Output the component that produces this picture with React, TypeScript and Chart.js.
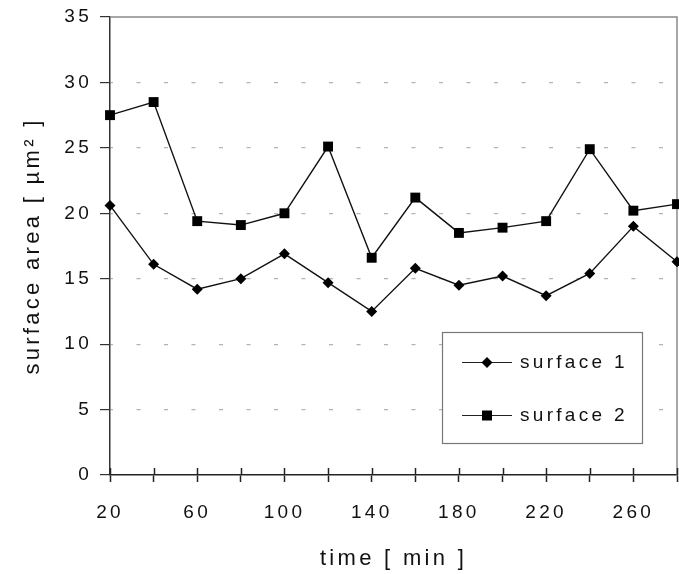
import React, { useEffect, useRef } from "react";
import { Chart, registerables } from "chart.js";

Chart.register(...registerables);

const times = ["20", "40", "60", "80", "100", "120", "140", "160", "180", "200", "220", "240", "260", "280"];
const surface1 = [20.6, 16.1, 14.2, 15.0, 16.9, 14.7, 12.5, 15.8, 14.5, 15.2, 13.7, 15.4, 19.0, 16.3];
const surface2 = [27.5, 28.5, 19.4, 19.1, 20.0, 25.1, 16.6, 21.2, 18.5, 18.9, 19.4, 24.9, 20.2, 20.7];
const seriesNames = ["surface 1", "surface 2"];
const yTitle = "surface area [ µm² ]";
const xTitle = "time [ min ]";

const FONT = "'Liberation Sans', Arial, Helvetica, sans-serif";
const TEXT = "#111";
const LS = "3.3px";

const spacingPlugin = {
  id: "spacing",
  beforeUpdate(chart: any) {
    chart.ctx.letterSpacing = LS;
  },
  beforeLayout(chart: any) {
    chart.ctx.letterSpacing = LS;
  },
  beforeDraw(chart: any) {
    chart.ctx.letterSpacing = LS;
  },
};

const framePlugin = {
  id: "frame",
  beforeDatasetsDraw(chart: any) {
    const { ctx, chartArea, scales } = chart;
    const x = scales.x;
    ctx.save();
    ctx.strokeStyle = "#8a8a8a";
    ctx.lineWidth = 1.5;
    ctx.beginPath();
    ctx.moveTo(chartArea.left, chartArea.top);
    ctx.lineTo(chartArea.right, chartArea.top);
    ctx.lineTo(chartArea.right, chartArea.bottom);
    ctx.stroke();
    // upward half of x tick marks (crossing the axis)
    ctx.strokeStyle = "#222";
    ctx.lineWidth = 1.5;
    for (let i = 0; i < x.ticks.length; i++) {
      const px = Math.round(x.getPixelForTick(i)) + 0.5;
      ctx.beginPath();
      ctx.moveTo(px, chartArea.bottom - 7);
      ctx.lineTo(px, chartArea.bottom);
      ctx.stroke();
    }
    ctx.restore();
  },
};

function drawMarker(ctx: CanvasRenderingContext2D, style: string, x: number, y: number) {
  ctx.beginPath();
  if (style === "rect") {
    ctx.rect(x - 5, y - 5, 10, 10);
  } else {
    ctx.moveTo(x, y - 5.5);
    ctx.lineTo(x + 5.5, y);
    ctx.lineTo(x, y + 5.5);
    ctx.lineTo(x - 5.5, y);
    ctx.closePath();
  }
  ctx.fill();
}

const legendPlugin = {
  id: "boxLegend",
  afterDraw(chart: any) {
    const { ctx, chartArea } = chart;
    const bx = chartArea.right - 235;
    const by = chartArea.bottom - 143;
    const bw = 200;
    const bh = 111;
    ctx.save();
    ctx.fillStyle = "#fff";
    ctx.fillRect(bx, by, bw, bh);
    ctx.strokeStyle = "#777";
    ctx.lineWidth = 1.2;
    ctx.strokeRect(bx + 0.5, by + 0.5, bw, bh);
    chart.data.datasets.forEach((ds: any, i: number) => {
      const y = by + 30 + i * 53;
      ctx.strokeStyle = "#222";
      ctx.lineWidth = 1.2;
      ctx.beginPath();
      ctx.moveTo(bx + 20, y + 0.5);
      ctx.lineTo(bx + 70, y + 0.5);
      ctx.stroke();
      ctx.fillStyle = "#000";
      drawMarker(ctx, ds.pointStyle, bx + 45, y + 0.5);
      ctx.fillStyle = TEXT;
      ctx.font = `19px ${FONT}`;
      ctx.textBaseline = "middle";
      ctx.textAlign = "left";
      ctx.fillText(ds.label, bx + 78, y + 1);
    });
    ctx.restore();
  },
};

export default function App() {
  const ref = useRef<HTMLCanvasElement>(null);

  useEffect(() => {
    const canvas = ref.current;
    if (!canvas) return;
    const chart = new Chart(canvas, {
      type: "line",
      data: {
        labels: times,
        datasets: [
          {
            label: seriesNames[0],
            data: surface1,
            borderColor: "#111",
            backgroundColor: "#000",
            borderWidth: 1.4,
            pointStyle: "rectRot",
            pointRadius: 5.5,
            pointBorderWidth: 0,
            pointBackgroundColor: "#000",
            tension: 0,
            clip: false as any,
          },
          {
            label: seriesNames[1],
            data: surface2,
            borderColor: "#111",
            backgroundColor: "#000",
            borderWidth: 1.4,
            pointStyle: "rect",
            pointRadius: 7,
            pointBorderWidth: 0,
            pointBackgroundColor: "#000",
            tension: 0,
            clip: false as any,
          },
        ],
      },
      options: {
        responsive: false,
        animation: false,
        devicePixelRatio: 1,
        layout: { autoPadding: false, padding: { top: 17, right: 2, left: 0, bottom: 0 } },
        plugins: {
          legend: { display: false },
          tooltip: { enabled: false },
        },
        scales: {
          x: {
            type: "category",
            offset: false,
            afterFit: (s: any) => {
              s.height = 99;
              s.paddingRight = 0;
              s.paddingLeft = 0;
            },
            grid: {
              display: true,
              drawOnChartArea: false,
              drawTicks: true,
              tickLength: 7,
              tickColor: "#222",
              tickWidth: 1.5,
            },
            border: { display: true, color: "#222", width: 1.5 },
            ticks: {
              autoSkip: false,
              maxRotation: 0,
              minRotation: 0,
              padding: 19,
              color: TEXT,
              font: { family: FONT, size: 19 },
              callback: (_v: any, i: number) => (i % 2 === 0 ? times[i] : ""),
            },
            title: {
              display: true,
              text: xTitle,
              color: TEXT,
              font: { family: FONT, size: 22 },
              padding: { top: 0, bottom: 2 },
            },
          },
          y: {
            min: 0,
            max: 35,
            afterFit: (s: any) => {
              s.width = 110;
              s.paddingTop = 0;
              s.paddingBottom = 0;
            },
            grid: {
              display: true,
              drawOnChartArea: true,
              drawTicks: true,
              tickLength: 10,
              tickColor: "#333",
              tickWidth: 1.2,
              tickBorderDash: [],
              lineWidth: 1.2,
              color: (c: any) =>
                c.tick && (c.tick.value === 0 || c.tick.value === 35) ? "rgba(0,0,0,0)" : "#b4b4b4",
            },
            border: { display: true, color: "#333", width: 1.5, dash: [4, 23.5], dashOffset: 1.5 },
            ticks: {
              stepSize: 5,
              padding: 8,
              color: TEXT,
              font: { family: FONT, size: 19 },
            },
            title: {
              display: true,
              text: yTitle,
              color: TEXT,
              font: { family: FONT, size: 22 },
              padding: { top: 20, bottom: 0 },
            },
          },
        },
      },
      plugins: [spacingPlugin, framePlugin, legendPlugin],
    } as any);
    return () => chart.destroy();
  }, []);

  return (
    <div style={{ position: "absolute", left: 0, top: 0, width: 679, height: 574, background: "#fff" }}>
      <canvas ref={ref} width={679} height={574} style={{ display: "block", width: 679, height: 574 }} />
    </div>
  );
}
